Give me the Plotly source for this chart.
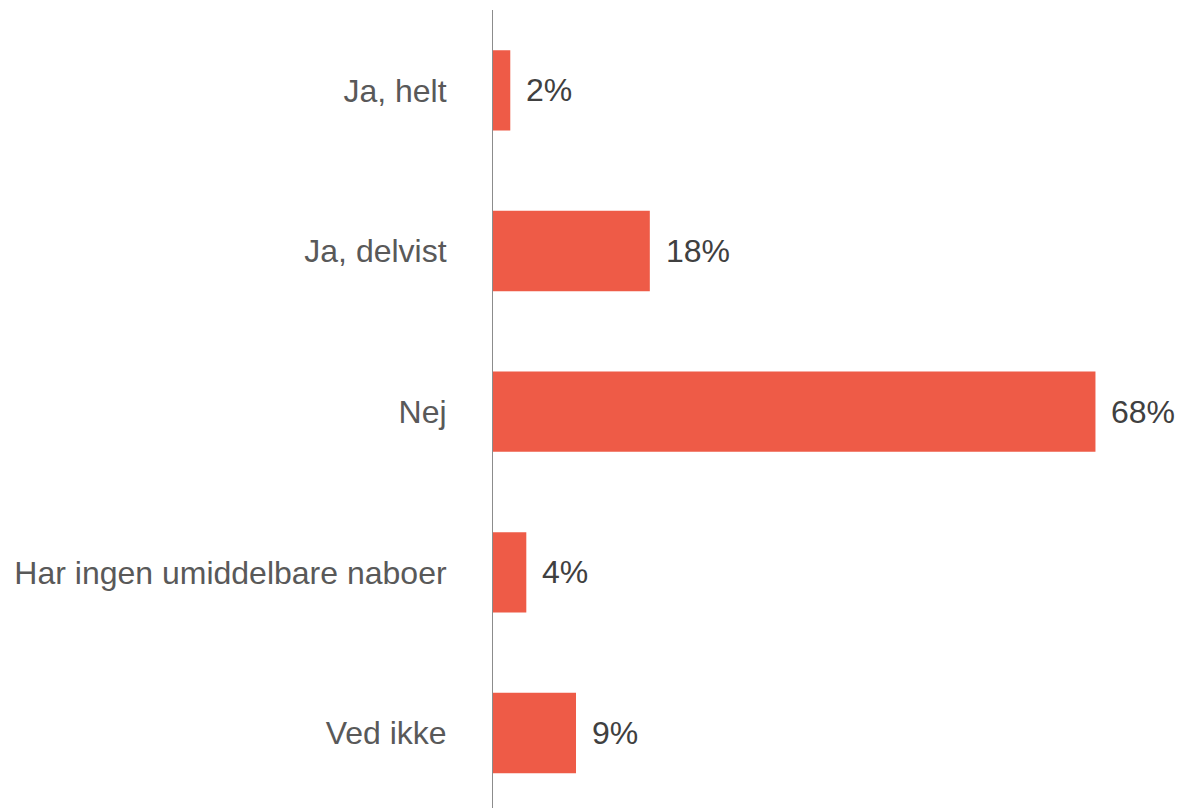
import plotly.graph_objects as go

categories = ["Ja, helt", "Ja, delvist", "Nej", "Har ingen umiddelbare naboer", "Ved ikke"]
values = [1.95, 17.7, 68.0, 3.76, 9.37]
labels = ["2%", "18%", "68%", "4%", "9%"]

BAR_COLOR = "#EE5B47"
FONT = "Liberation Sans, Arial, sans-serif"

fig = go.Figure(
    go.Bar(
        x=values,
        y=categories,
        orientation="h",
        marker=dict(color=BAR_COLOR, line=dict(width=0)),
        width=0.5,
        hoverinfo="skip",
    )
)

for cat, v, lab in zip(categories, values, labels):
    fig.add_annotation(
        x=v, y=cat, text=lab, showarrow=False,
        xanchor="left", yanchor="middle", xshift=14,
        font=dict(size=32, color="#404040", family=FONT),
    )

fig.update_layout(
    width=1179,
    height=808,
    margin=dict(l=493, r=80, t=10, b=0, autoexpand=False),
    paper_bgcolor="white",
    plot_bgcolor="white",
    showlegend=False,
    font=dict(family=FONT),
)
fig.update_xaxes(
    range=[0, 68.4],
    automargin=False,
    showgrid=False,
    zeroline=False,
    showticklabels=False,
    showline=False,
)
fig.update_yaxes(
    type="category",
    range=[4.467, -0.5],
    automargin=False,
    showgrid=False,
    zeroline=False,
    showline=True,
    linecolor="#8C8C8C",
    linewidth=1,
    ticks="",
    ticklabelstandoff=39,
    tickfont=dict(size=32, color="#595959", family=FONT),
)

fig.write_html(
    "out.html",
    config={"displayModeBar": False},
    post_script="document.body.style.margin='0px';document.body.style.overflow='hidden';",
)
